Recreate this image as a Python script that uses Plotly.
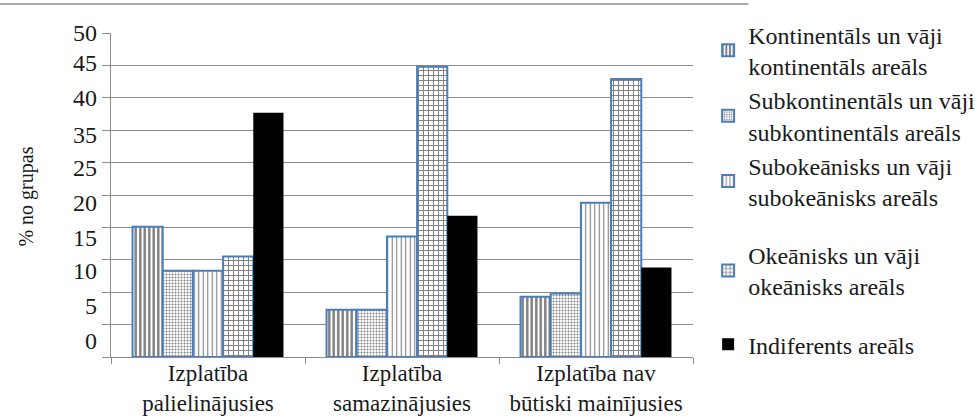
import plotly.graph_objects as go

# Categories (x axis, multi-line labels)
categories = [
    "Izplatība<br>palielinājusies",
    "Izplatība<br>samazinājusies",
    "Izplatība nav<br>būtiski mainījusies",
]

# Series names (legend)
series_names = [
    "Kontinentāls un vāji<br>kontinentāls areāls",
    "Subkontinentāls un vāji<br>subkontinentāls areāls",
    "Subokeānisks un vāji<br>subokeānisks areāls",
    "Okeānisks un vāji<br>okeānisks areāls",
    "Indiferents areāls",
]

# Values, % of group
kontinentals = [20.1, 7.3, 9.3]
subkontinentals = [13.3, 7.3, 9.8]
subokeanisks = [13.3, 18.6, 23.8]
okeanisks = [15.5, 44.8, 42.9]
indiferents = [37.7, 21.8, 13.8]

# Y tick labels as printed along the axis
ytick_text = ["0", "5", "10", "15", "20", "25", "35", "40", "45", "50"]
ytick_pos = [2.6, 8.0, 13.4, 18.5, 23.9, 29.3, 34.3, 40.0, 45.4, 50.0]

series_values = [kontinentals, subkontinentals, subokeanisks, okeanisks, indiferents]

BLUE = "#4a7ebb"
GRID = "#8c8c8c"
FONT = "Liberation Serif"
TXT = "#1a1a1a"
FS = 24

styles = [
    dict(color="white", line=dict(color=BLUE, width=2),
         pattern=dict(shape="|", fgcolor="black", bgcolor="white", size=4.5, solidity=0.55)),
    dict(color="white", line=dict(color=BLUE, width=2),
         pattern=dict(shape=".", fgcolor="black", bgcolor="white", size=3, solidity=0.35)),
    dict(color="white", line=dict(color=BLUE, width=2),
         pattern=dict(shape="|", fgcolor="black", bgcolor="white", size=4.5, solidity=0.25)),
    dict(color="white", line=dict(color=BLUE, width=2),
         pattern=dict(shape="+", fgcolor="black", bgcolor="white", size=5, solidity=0.35)),
    dict(color="black", line=dict(color="black", width=0)),
]

groups = ["a", "a", "a", "b", "c"]

fig = go.Figure()
for name, vals, st, g in zip(series_names, series_values, styles, groups):
    fig.add_trace(go.Bar(x=categories, y=vals, name=name, marker=st, legendgroup=g))

fig.update_layout(
    width=977,
    height=420,
    margin=dict(l=111, r=284, t=33, b=63, autoexpand=False),
    paper_bgcolor="white",
    plot_bgcolor="white",
    font=dict(family=FONT, size=FS, color=TXT),
    barmode="group",
    bargap=0.222,
    bargroupgap=0,
    showlegend=True,
    legend=dict(
        x=1.026, xanchor="left", y=1.063, yanchor="top",
        font=dict(family=FONT, size=FS, color=TXT),
        tracegroupgap=24,
        valign="middle",
        maxheight=415,
        bgcolor="rgba(0,0,0,0)",
    ),
    xaxis=dict(
        showline=True, linecolor=GRID, linewidth=1,
        ticks="outside", ticklen=6, tickcolor=GRID, tickson="boundaries",
        showgrid=False, automargin=False,
        ticklabelstandoff=-5,
        tickfont=dict(family=FONT, size=23, color=TXT),
    ),
    yaxis=dict(
        range=[0, 50], dtick=5, showgrid=True, gridcolor=GRID, gridwidth=1,
        showline=True, linecolor=GRID, linewidth=1,
        ticks="outside", ticklen=8, tickcolor=GRID,
        showticklabels=False, zeroline=False, automargin=False,
    ),
    yaxis2=dict(
        range=[0, 50], overlaying="y", side="left", anchor="x",
        tickmode="array", tickvals=ytick_pos, ticktext=ytick_text,
        showgrid=False, zeroline=False, showline=False, ticks="",
        ticklabelstandoff=13, automargin=False,
        tickfont=dict(family=FONT, size=FS, color=TXT),
    ),
    annotations=[
        dict(text="% no grupas", xref="paper", yref="paper", x=-0.145, y=0.494,
             xanchor="center", yanchor="middle", textangle=-90, showarrow=False,
             font=dict(family=FONT, size=20, color=TXT)),
    ],
    shapes=[
        dict(type="line", xref="paper", yref="paper", x0=-0.191, x1=1.095,
             y0=1.0895, y1=1.0895, line=dict(color=GRID, width=1.5)),
    ],
)

# Invisible trace so the overlaid label axis is drawn
fig.add_trace(go.Scatter(x=[categories[0]], y=[0], yaxis="y2", mode="markers",
                         marker=dict(opacity=0), showlegend=False, hoverinfo="skip"))

fig.write_html("out.html")
